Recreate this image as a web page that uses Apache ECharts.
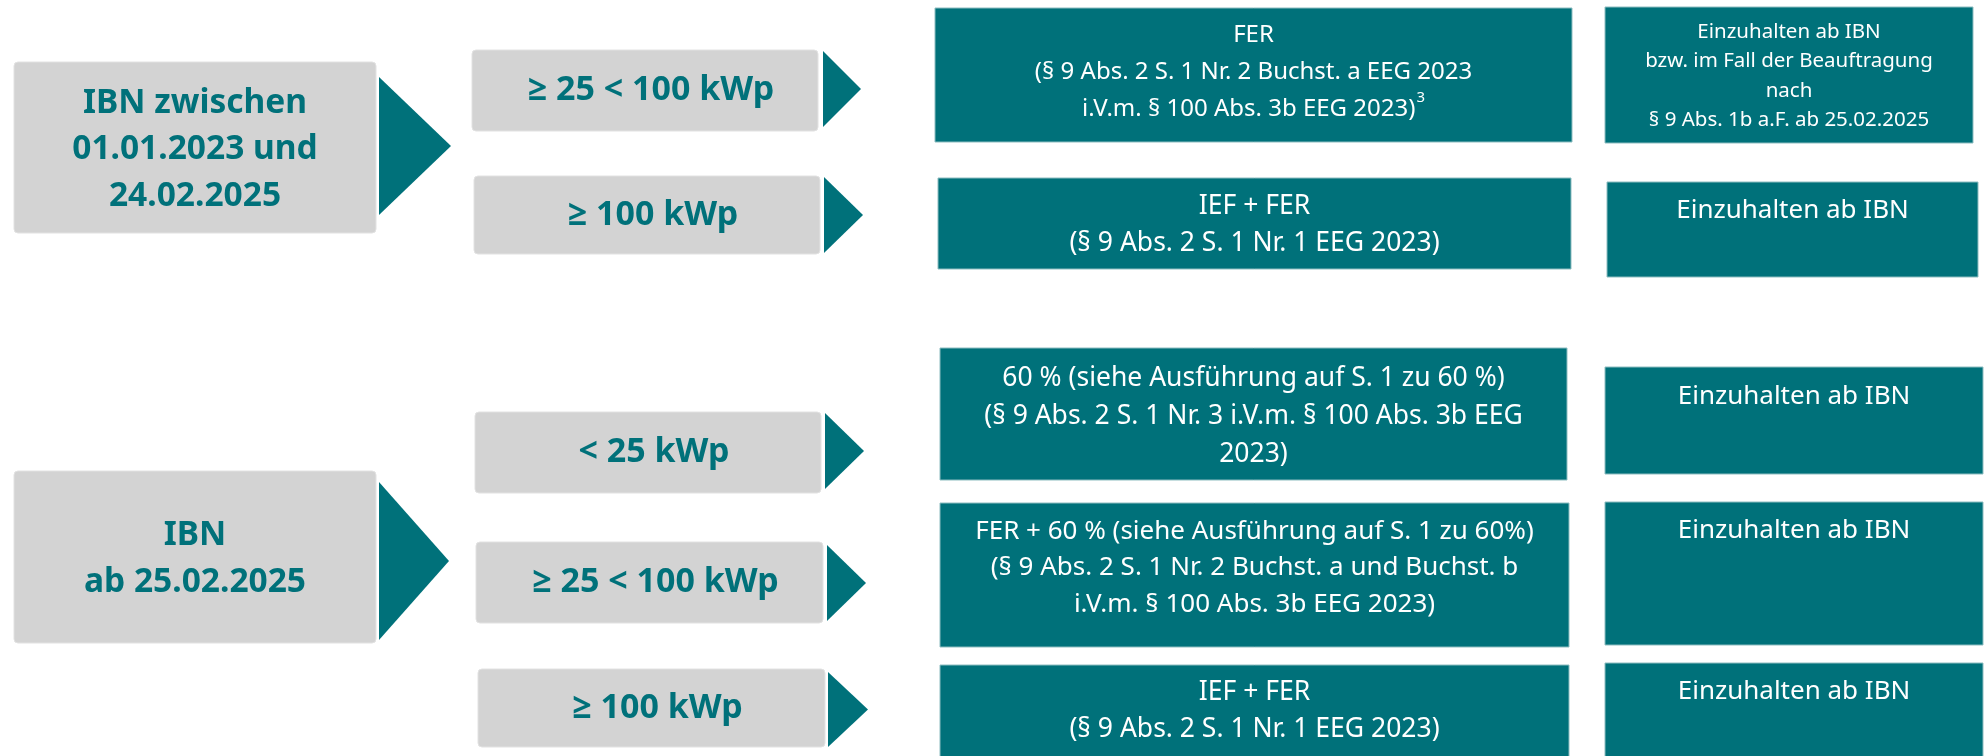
<!DOCTYPE html>
<html>
<head>
<meta charset="utf-8">
<script src="https://cdn.jsdelivr.net/npm/echarts@6/dist/echarts.min.js"></script>
<style>
html,body{margin:0;padding:0;background:#fff;}
#chart{width:1984px;height:756px;}
</style>
</head>
<body>
<div id="chart"></div>
<script>
// ---- content (texts) ----
const periods = [
  'IBN zwischen\n01.01.2023 und\n24.02.2025',
  'IBN\nab 25.02.2025'
];
const sizeClasses = ['≥ 25 < 100 kWp', '≥ 100 kWp', '< 25 kWp', '≥ 25 < 100 kWp', '≥ 100 kWp'];
const requirements = [
  'FER\n(§ 9 Abs. 2 S. 1 Nr. 2 Buchst. a EEG 2023\ni.V.m. § 100 Abs. 3b EEG 2023)',
  'IEF + FER\n(§ 9 Abs. 2 S. 1 Nr. 1 EEG 2023)',
  '60 % (siehe Ausführung auf S. 1 zu 60 %)\n(§ 9 Abs. 2 S. 1 Nr. 3 i.V.m. § 100 Abs. 3b EEG\n2023)',
  'FER + 60 % (siehe Ausführung auf S. 1 zu 60%)\n(§ 9 Abs. 2 S. 1 Nr. 2 Buchst. a und Buchst. b\ni.V.m. § 100 Abs. 3b EEG 2023)',
  'IEF + FER\n(§ 9 Abs. 2 S. 1 Nr. 1 EEG 2023)'
];
const footnotes = ['3', '', '', '', ''];
const deadlines = [
  'Einzuhalten ab IBN\nbzw. im Fall der Beauftragung\nnach\n§ 9 Abs. 1b a.F. ab 25.02.2025',
  'Einzuhalten ab IBN',
  'Einzuhalten ab IBN',
  'Einzuhalten ab IBN',
  'Einzuhalten ab IBN'
];

// ---- layout (diagram geometry, in axis units) ----
const periodBoxes  = [[14,62,376,233],[14,471,376,643]];
const periodArrows = [[379,77,451,215],[379,482,449,640]];
const sizeBoxes  = [[472,50,818,131],[474,176,820,254],[475,412,821,493],[476,542,823,623],[478,669,825,747]];
const sizeArrows = [[823,51,861,127],[824,177,863,253],[825,413,864,489],[827,545,866,621],[828,672,868,747]];
const reqBoxes = [[935,8,1572,142],[938,178,1571,269],[940,348,1567,480],[940,503,1569,647],[940,665,1569,758]];
const reqTextY = [72,225,416,568,711];
const reqFont = [24,26.5,26.5,26,26.5];
const reqLine = [37,36.5,38,36.5,37];
const deadlineBoxes = [[1605,7,1973,143],[1607,182,1978,277],[1605,367,1983,474],[1605,502,1983,645],[1605,663,1983,758]];
const deadlineTextY = [76,211,397,531,692];
const deadlineFont = [20.5,26,26,26,26];
const deadlineLine = [29.5,30,30,30,30];

const TEAL = '#00717A';
const GREY = '#D3D3D3';
const FONT = '"Noto Sans", "Open Sans", sans-serif';

const shapes = [];
periods.forEach((t, i) => {
  const b = periodBoxes[i];
  shapes.push({kind:'grey', box:b, text:t, tx:(b[0]+b[2])/2, ty:(b[1]+b[3])/2 + 2, font:33.5, weight:'bold', lh:46.5});
  shapes.push({kind:'arrow', box:periodArrows[i]});
});
sizeClasses.forEach((t, i) => {
  const b = sizeBoxes[i];
  shapes.push({kind:'grey', box:b, text:t, tx:(b[0]+b[2])/2 + 6, ty:(b[1]+b[3])/2, font:34, weight:'bold', lh:40});
  shapes.push({kind:'arrow', box:sizeArrows[i]});
});
requirements.forEach((t, i) => {
  const b = reqBoxes[i];
  shapes.push({kind:'teal', box:b, text:t, sup:footnotes[i], tx:(b[0]+b[2])/2, ty:reqTextY[i], font:reqFont[i], weight:'normal', lh:reqLine[i]});
});
deadlines.forEach((t, i) => {
  const b = deadlineBoxes[i];
  shapes.push({kind:'teal', box:b, text:t, tx:(b[0]+b[2])/2, ty:deadlineTextY[i], font:deadlineFont[i], weight:'normal', lh:deadlineLine[i]});
});

const chart = echarts.init(document.getElementById('chart'), null, {renderer:'canvas'});

function renderItem(params, api) {
  const s = shapes[api.value(0)];
  const p0 = api.coord([s.box[0], s.box[1]]);
  const p1 = api.coord([s.box[2], s.box[3]]);
  const x = p0[0], y = p0[1], w = p1[0] - p0[0], h = p1[1] - p0[1];
  if (s.kind === 'arrow') {
    return {
      type: 'polygon',
      shape: {points: [[x, y], [x + w, y + h / 2], [x, y + h]]},
      style: {fill: TEAL}
    };
  }
  const children = [];
  if (s.kind === 'grey') {
    children.push({type:'rect', shape:{x, y, width:w, height:h, r:4}, style:{fill:GREY, stroke:'#E2E2E2', lineWidth:1}});
  } else {
    children.push({type:'rect', shape:{x, y, width:w, height:h}, style:{fill:TEAL, stroke:'#8DBDC0', lineWidth:1}});
  }
  const tp = api.coord([s.tx, s.ty]);
  const lines = s.text.split('\n');
  let text = s.text;
  let rich = undefined;
  if (s.sup) {
    text = lines.map((l, k) => '{t|' + l + '}' + (k === lines.length - 1 ? '{s|' + s.sup + '}' : '')).join('\n');
    rich = {
      t: {fontSize: s.font, fontFamily: FONT, fill: '#FFFFFF', lineHeight: s.lh, verticalAlign: 'middle'},
      s: {fontSize: 15, fontFamily: FONT, fill: '#FFFFFF', lineHeight: s.lh, verticalAlign: 'top', padding: [0, 0, 0, 1]}
    };
  }
  children.push({
    type:'text',
    style:{
      text: text,
      rich: rich,
      x: tp[0],
      y: tp[1] - (lines.length - 1) * s.lh / 2 - s.lh / 2,
      align: 'center',
      verticalAlign: 'top',
      fill: s.kind === 'grey' ? TEAL : '#FFFFFF',
      fontFamily: FONT,
      fontSize: s.font,
      fontWeight: s.weight,
      lineHeight: s.lh
    }
  });
  return {type:'group', children};
}

chart.setOption({
  animation: false,
  backgroundColor: '#FFFFFF',
  grid: {left:0, right:0, top:0, bottom:0},
  xAxis: {type:'value', min:0, max:1984, show:false},
  yAxis: {type:'value', min:0, max:756, inverse:true, show:false},
  series: [{
    type: 'custom',
    silent: true,
    clip: false,
    renderItem: renderItem,
    data: shapes.map((s, i) => [i]),
    encode: {x: -1, y: -1}
  }]
});
</script>
</body>
</html>
